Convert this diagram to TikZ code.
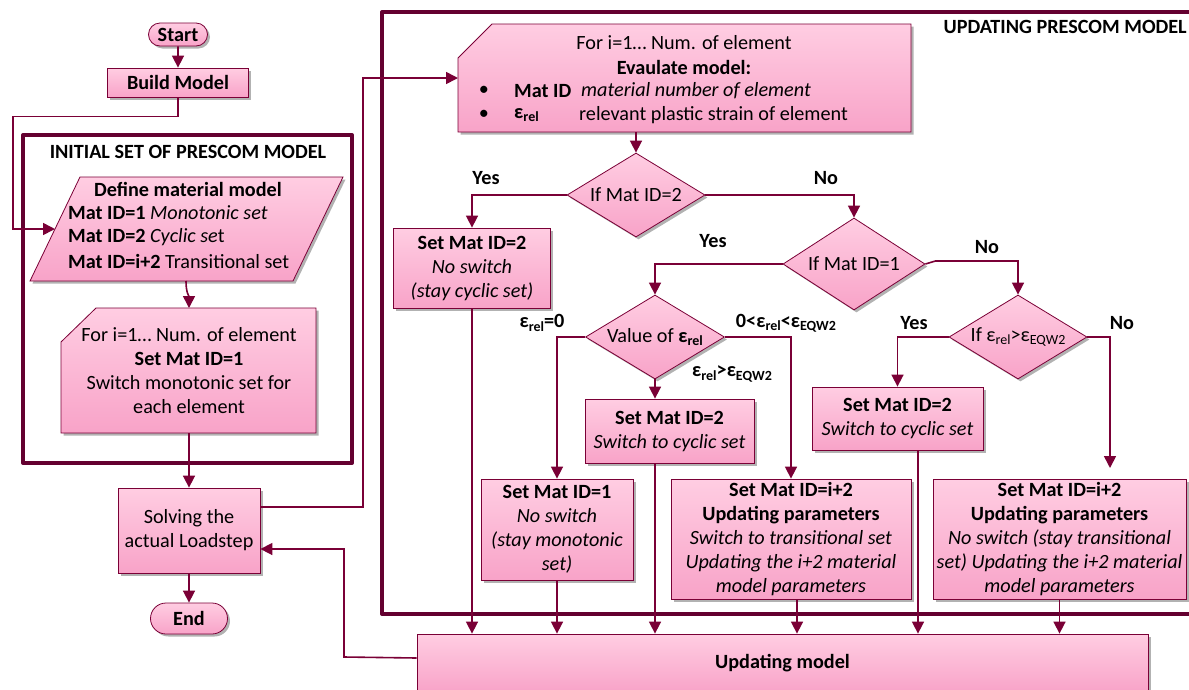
\documentclass[tikz,border=0pt]{standalone}
\usepackage{fontspec}
\setmainfont{Carlito}
\usetikzlibrary{arrows.meta,shapes.geometric,shapes.misc,shadows,calc}
\definecolor{lc}{HTML}{7A0036}
\definecolor{fc}{HTML}{640030}
\definecolor{ptop}{HTML}{FFCDE2}
\definecolor{pbot}{HTML}{F8A3C8}
\newcommand\fs{\fontsize{20.2}{24}\selectfont}
\newcommand\lo[1]{\raisebox{-0.35ex}{\fontsize{14}{14}\selectfont #1}}
\tikzset{
  myshadow/.style={drop shadow={shadow xshift=2.5pt,shadow yshift=-2.5pt,fill=black,opacity=0.3}},
  boxpath/.style={draw=lc, line width=0.8pt, top color=ptop, bottom color=pbot, myshadow},
  box/.style={boxpath, align=center, inner sep=0pt, font=\fs},
  ghost/.style={inner sep=0pt, outer sep=0pt},
  txt/.style={inner sep=0pt, font=\fs},
  btxt/.style={inner sep=0pt, font=\fs\bfseries},
  dia/.style={boxpath, diamond, inner sep=0pt, font=\fs, align=center},
  arr/.style={draw=lc, line width=1.6pt, -{Triangle[width=12pt,length=12pt]}},
  ln/.style={draw=lc, line width=1.6pt},
  frame/.style={draw=fc, line width=4pt, line cap=round, line join=round}
}
\begin{document}
\begin{tikzpicture}[x=1pt,y=-1pt]
\useasboundingbox (0,0) rectangle (1189,689);
\clip (0,0) rectangle (1189,689);
\fill[white] (0,0) rectangle (1189,689);

% frames
\draw[frame] (23,135) rectangle (352,463);
\draw[frame] (1200,12) -- (382,12) -- (382,614) -- (1200,614);
\node[btxt] (t1) at (188,152) {INITIAL SET OF PRESCOM MODEL};
\node[btxt, anchor=east] (t2) at (1187,27) {UPDATING PRESCOM MODEL};

% left column
\node[box, rounded rectangle, minimum width=59pt, minimum height=23pt, font=\fs\bfseries] (start) at (178,34.5) {Start};
\node[box, minimum width=141pt, minimum height=29pt, font=\fs\bfseries] (build) at (178,82.5) {Build Model};

\shade[boxpath] (80,177) -- (343,177) -- (293,281) -- (30,281) -- cycle;
\node[ghost, minimum width=263pt, minimum height=104pt] (defm) at (186,229) {};
\coordinate (defmL) at (55,229);
\node[btxt] (pm0) at (188,189) {Define material model};
\node[txt, anchor=west] (pm1) at (68,213) {\textbf{Mat ID=1} \textit{Monotonic set}};
\node[txt, anchor=west] (pm2) at (68,237) {\textbf{Mat ID=2} \textit{Cyclic se}t};
\node[txt, anchor=west] (pm3) at (68,261) {\textbf{Mat ID=i+2} Transitional set};

\shade[boxpath] (61,342) -- (96,308) -- (316,308) -- (316,433) -- (61,433) -- cycle;
\node[ghost, minimum width=256pt, minimum height=125pt, align=center, font=\fs] (init) at (189,370.5)
  {For i=1\dots\ Num. of element\\\textbf{Set Mat ID=1}\\Switch monotonic set for\\each element};

\node[box, minimum width=142pt, minimum height=85pt] (solve) at (189,530.5) {Solving the\\actual Loadstep};
\node[box, rounded rectangle, minimum width=77pt, minimum height=31pt, font=\fs\bfseries] (end) at (189,618.5) {End};

% top evaluation box
\shade[boxpath] (458,58) -- (492,24) -- (911,24) -- (911,132) -- (458,132) -- cycle;
\node[ghost, minimum width=453pt, minimum height=108pt] (eval) at (684.5,78) {};
\node[txt] (e1) at (684,43) {For i=1\dots\ Num. of element};
\node[btxt] (e2) at (684,67) {Evaulate model:};
\node[txt] (b1) at (484,91) {•};
\node[txt] (b2) at (484,115) {•};
\node[btxt, anchor=west] (e3) at (514,91) {Mat ID};
\node[txt, anchor=west] (e4) at (581,91) {\textit{material number of element}};
\node[btxt, anchor=west] (e5) at (514,115) {ε\lo{rel}};
\node[txt, anchor=west] (e6) at (579,115) {relevant plastic strain of element};

% diamonds
\node[dia, aspect=1.64, minimum width=138pt, minimum height=84pt] (d1) at (636,195) {If Mat ID=2};
\node[dia, aspect=1.54, minimum width=142pt, minimum height=92pt] (d2) at (854,264) {If Mat ID=1};
\node[dia, aspect=1.65, minimum width=139pt, minimum height=84pt] (d3) at (655,337) {Value of \textbf{ε\lo{rel}}};
\node[dia, aspect=1.64, minimum width=138pt, minimum height=84pt] (d4) at (1018,337) {If ε\lo{rel}>ε\lo{EQW2}};

% process boxes
\node[box, minimum width=157pt, minimum height=80pt] (setA) at (472,268) {\textbf{Set Mat ID=2}\\\textit{No switch}\\\textit{(stay cyclic set)}};
\node[box, minimum width=169pt, minimum height=64pt] (setC) at (669.5,431) {\textbf{Set Mat ID=2}\\\textit{Switch to cyclic set}};
\node[box, minimum width=171pt, minimum height=63pt] (setD) at (897.5,418.5) {\textbf{Set Mat ID=2}\\\textit{Switch to cyclic set}};
\node[box, minimum width=152pt, minimum height=101pt] (setE) at (557,529.5) {\textbf{Set Mat ID=1}\\\textit{No switch}\\\textit{(stay monotonic}\\\textit{set)}};
\node[box, minimum width=240pt, minimum height=120pt] (setF) at (791,539) {\textbf{Set Mat ID=i+2}\\\textbf{Updating parameters}\\\textit{Switch to transitional set}\\\textit{Updating the i+2 material}\\\textit{model parameters}};
\node[box, minimum width=253pt, minimum height=120pt] (setG) at (1059.5,539) {\textbf{Set Mat ID=i+2}\\\textbf{Updating parameters}\\\textit{No switch (stay transitional}\\\textit{set) Updating the i+2 material}\\\textit{model parameters}};
\node[box, minimum width=731pt, minimum height=58pt, font=\fs\bfseries] (upd) at (782.5,663) {Updating model};

% labels
\node[btxt] (y1) at (486,178) {Yes};
\node[btxt] (n1) at (826,178) {No};
\node[btxt] (y2) at (713,241) {Yes};
\node[btxt] (n2) at (987,247) {No};
\node[btxt] (l1) at (542,323) {ε\lo{rel}=0};
\node[btxt] (l2) at (786,323) {0<ε\lo{rel}<ε\lo{EQW2}};
\node[btxt] (l3) at (732,374) {ε\lo{rel}>ε\lo{EQW2}};
\node[btxt] (y3) at (914,323) {Yes};
\node[btxt] (n3) at (1122,323) {No};

% connectors left column
\draw[arr] (start) -- (build);
\draw[arr] (build.south) -- ++(0,19) -| (13,229) -- (defmL);
\draw[arr] (defm.south) .. controls +(0,12) and +(0,-12) .. (init.north);
\draw[arr] (init.south) -- (solve.north);
\draw[arr] (solve.south) -- (end.north);
\draw[arr] ([yshift=23.5pt]solve.east) -- (363,507) |- (eval.west);
\draw[arr] ([yshift=5pt]upd.west) -- (344,657) |- ([yshift=-18.5pt]solve.east);

% decision connectors
\draw[arr] (eval.south -| d1.north) -- (d1.north);
\draw[arr] (d1.west) -| (setA.north);
\draw[arr] (d1.east) -| (d2.north);
\draw[arr] (d2.west) -| (d3.north);
\draw[arr] (d2.east) -- ++(10,-3) -| (d4.north);
\draw[arr] (d3.west) -| (setE.north);
\draw[arr] (d3.east) -| (setF.north);
\draw[arr] (d3.south) -- (d3.south |- setC.north);
\draw[arr] (d4.west) -| (setD.north);
\coordinate (gIn) at (1110,468);
\draw[arr] (d4.east) -| (gIn);

% into updating model
\draw[arr] (setA.south) -- (setA.south |- upd.north);
\draw[arr] (setE.south) -- (setE.south |- upd.north);
\draw[arr] (d3.south |- setC.south) -- (d3.south |- upd.north);
\draw[arr] ([xshift=6pt]setF.south) -- ([xshift=6pt]setF.south |- upd.north);
\draw[arr] ([xshift=20.5pt]setD.south) -- ([xshift=20.5pt]setD.south |- upd.north);
\draw[arr] (setG.south) -- (setG.south |- upd.north);
\end{tikzpicture}
\end{document}
